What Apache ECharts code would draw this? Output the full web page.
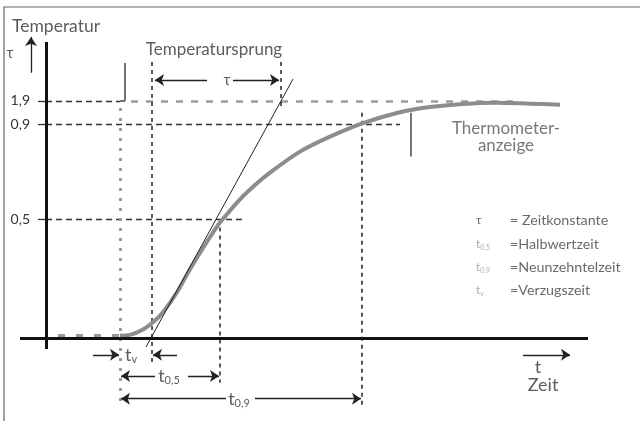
<!DOCTYPE html>
<html><head><meta charset="utf-8">
<script src="https://cdn.jsdelivr.net/npm/echarts@6/dist/echarts.min.js"></script>
<style>html,body{margin:0;padding:0;background:#fff}#c{width:640px;height:421px}</style>
</head><body><div id="c"></div>
<script>
// ---- data (time in arbitrary units, temperature as fraction of step) ----
const curveTime = [7.4,8.4,9.7,10.7,11.7,13.1,14.4,15.7,17.1,17.7,19.1,20.4,22.4,25.4,28.4,31.7,35.1,38.4,41.7,45.1,48.4,51.4];
const curveTemp = [0.01,0.013,0.036,0.066,0.109,0.193,0.29,0.38,0.47,0.502,0.571,0.626,0.697,0.786,0.849,0.906,0.949,0.974,0.987,0.992,0.988,0.984];
const baselineDots = [[1.2,0.013],[7.4,0.013]];
const tangentLine = [[10.0,-0.038],[24.7,1.092]];
const yTickValues = [0.5, 0.9, 1.0];
const yTickLabels = ['0,5', '0,9', '1,9'];
const axisLines = [ [[0,-0.046],[0,1.248]], [[-2.6,0],[54.2,0]] ];
const levelDark = [ [[0,1.0],[7.4,1.0]], [[0,0.9],[35.4,0.9]], [[0,0.5],[19.9,0.5]] ];
const levelGray = [ [[8.5,1.0],[47.4,1.0]] ];
const verticalDark = [ [[10.6,1.164],[10.6,-0.118]], [[17.4,0.5],[17.4,-0.189]], [[23.5,1.164],[23.5,0.962]], [[31.6,0.95],[31.6,-0.29]] ];
const verticalGray = [ [[7.4,0.97],[7.4,-0.29]] ];
const markerLines = [ [[7.9,1.16],[7.9,1.0]], [[7.9,1.0],[7.4,1.0]] ];
const pointerLine = [ [[36.5,0.95],[36.5,0.765]] ];
const arrows = [
  [[-1.5,1.118],[-1.5,1.269]],   // temperature axis arrow
  [[47.7,-0.071],[52.4,-0.071]], // time axis arrow
  [[16.1,1.088],[10.9,1.088]], [[18.7,1.088],[23.3,1.088]],   // tau
  [[4.7,-0.071],[7.3,-0.071]], [[13.1,-0.071],[10.7,-0.071]], // tv
  [[10.9,-0.16],[7.5,-0.16]], [[14.2,-0.16],[17.3,-0.16]],    // t0,5
  [[18.0,-0.256],[7.5,-0.256]], [[20.9,-0.256],[31.5,-0.256]] // t0,9
];
const textLabels = ['Temperatur','τ','Temperatursprung','τ','Thermometer-\nanzeige','{t|t}{s|v}','{t|t}{s|0,5}','{t|t}{s|0,9}','t','Zeit'];
const textAnchors = [[-3.4,1.315],[-3.6,1.2],[16.8,1.218],[18.1,1.088],[46.0,0.847],[8.5,-0.071],[12.3,-0.16],[19.3,-0.256],[49.2,-0.122],[49.7,-0.197]];
const legendSymbols = ['τ','{t|t}{s|0,5}','{t|t}{s|0,9}','{t|t}{s|v}'];
const legendTexts = ['= Zeitkonstante','=Halbwertzeit','=Neunzehntelzeit','=Verzugszeit'];
const legendRowTemp = [0.496, 0.395, 0.298, 0.2];

// ---- chart ----
const FONT = 'Lato';
const chart = echarts.init(document.getElementById('c'), null, {renderer:'canvas'});
function seg(list){ return list.map(c => ({coords: c})); }
function linesSeries(list, style, extra){
  return Object.assign({
    type:'lines', coordinateSystem:'cartesian2d', polyline:false, silent:true,
    data: seg(list), symbol:'none',
    lineStyle: Object.assign({opacity:1, curveness:0}, style)
  }, extra||{});
}
const subRich = {
  t:{fontSize:18, fontFamily:FONT, color:'#333', lineHeight:20},
  s:{fontSize:11, fontFamily:FONT, color:'#333', lineHeight:12, verticalAlign:'bottom'}
};
const legRich = {
  t:{fontSize:12, fontFamily:FONT, color:'#999', lineHeight:14},
  s:{fontSize:7, fontFamily:FONT, color:'#999', lineHeight:8, verticalAlign:'bottom'}
};
const textData = textLabels.map((s,i)=>{
  const base = {value:textAnchors[i], label:{formatter:s}};
  if (i===0) { base.label.align='left'; base.label.fontSize=17.5; }
  if (i===1 || i===3) base.label.fontSize=15;
  if (i===4) { base.label.color='#555'; base.label.lineHeight=17; }
  if (i===8 || i===9) base.label.fontSize=18;
  return base;
});
const legendData = [];
legendSymbols.forEach((s,i)=>{
  legendData.push({value:[43.0, legendRowTemp[i]], label:{formatter:s, align:'left', rich:legRich, fontSize:12, color: i===0?'#444':'#999'}});
  legendData.push({value:[46.4, legendRowTemp[i]], label:{formatter:legendTexts[i], align:'left', fontSize:14.3, color:'#444'}});
});

chart.setOption({
  animation:false,
  backgroundColor:'#fff',
  grid:{left:0, top:6, width:640, height:416.5},
  xAxis:{type:'value', min:-4.6, max:59.4, show:false},
  yAxis:{type:'value', min:-0.35, max:1.4, offset:-46,
    axisLine:{show:false, onZero:false}, splitLine:{show:false},
    axisTick:{show:true, customValues:yTickValues, length:8, lineStyle:{color:'#333', width:1.3}},
    axisLabel:{show:true, customValues:yTickValues, margin:16, fontFamily:FONT, fontSize:14, color:'#333',
      formatter:(v)=>{ const i = yTickValues.findIndex(x=>Math.abs(x-v)<1e-6); return i>=0?yTickLabels[i]:''; }}
  },
  graphic:[{type:'rect', shape:{x:4, y:7, width:700, height:500}, style:{fill:'none', stroke:'#666', lineWidth:1.2}, silent:true, z:-1}],
  series:[
    linesSeries(levelGray, {color:'#9a9a9a', width:2.6, type:[7,8]}),
    linesSeries(levelDark, {color:'#333', width:1.3, type:[6,4]}),
    linesSeries(verticalGray, {color:'#9a9a9a', width:3, type:[3,7]}),
    linesSeries(verticalDark, {color:'#222', width:1.5, type:[4,4]}),
    linesSeries([baselineDots], {color:'#9a9a9a', width:3, type:[7,11]}),
    {type:'line', silent:true, showSymbol:false, smooth:0.3, data:curveTime.map((t,i)=>[t,curveTemp[i]]),
      lineStyle:{color:'#8c8c8c', width:4}, z:3},
    linesSeries([tangentLine], {color:'#222', width:1}, {z:4}),
    linesSeries(axisLines, {color:'#111', width:3}, {z:5}),
    linesSeries(markerLines, {color:'#444', width:1.5}),
    linesSeries(pointerLine, {color:'#777', width:2}),
    linesSeries(arrows, {color:'#222', width:1.3}, {symbol:['none','arrow'], symbolSize:[0,9]}),
    {type:'scatter', silent:true, symbolSize:0, z:10, data:textData,
      label:{show:true, position:'inside', fontFamily:FONT, fontSize:17, color:'#333', rich:subRich}},
    {type:'scatter', silent:true, symbolSize:0, z:10, data:legendData,
      label:{show:true, position:'inside', fontFamily:FONT, fontSize:14, color:'#444'}}
  ]
});
</script></body></html>
